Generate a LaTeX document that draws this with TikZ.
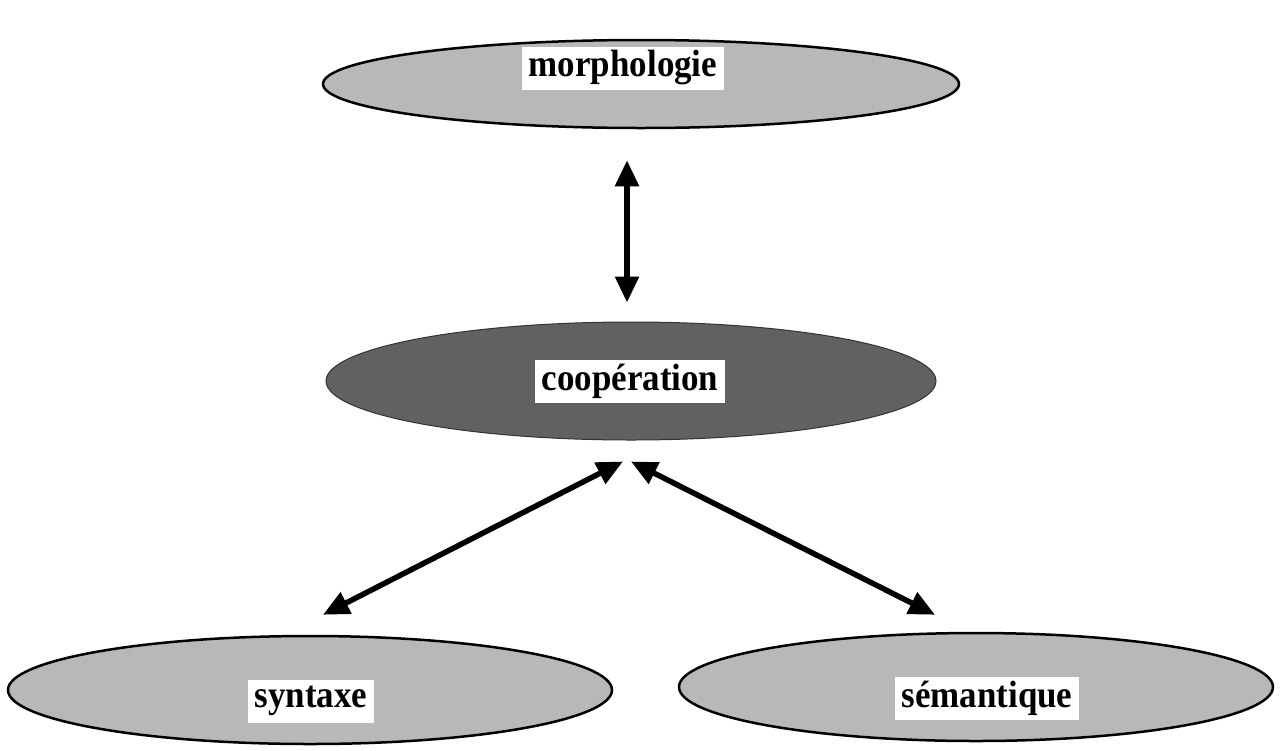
\documentclass[tikz,border=0pt]{standalone}
\usepackage{fontspec}
\setmainfont{Liberation Serif}[FakeStretch=0.92]
\usetikzlibrary{arrows.meta,shapes.geometric}
\begin{document}
\begin{tikzpicture}[x=1pt, y=-1pt,
  ov/.style={ellipse, draw, line width=2.5pt, inner sep=0pt, fill=black!28},
  lbl/.style={fill=white, inner xsep=7pt, inner ysep=0pt, minimum height=43pt, font=\fontsize{38}{42}\selectfont\bfseries},
  dbl/.style={{Triangle[length=26pt,width=23pt]}-{Triangle[length=26pt,width=23pt]}, line width=5.5pt}]
\useasboundingbox (0,0) rectangle (1281,750);
% Ellipses
\node[ov, minimum width=636pt, minimum height=88pt] (morph) at (641,84) {};
\node[ov, fill=black!62, draw=black!80, line width=1pt, minimum width=610pt, minimum height=118pt] (coop) at (631,381) {};
\node[ov, minimum width=604pt, minimum height=108pt] (synt) at (310,690) {};
\node[ov, minimum width=594pt, minimum height=108pt] (sem) at (976,687) {};
% Labels
\node[lbl] (morphlbl) at (623,68) {morphologie};
\node[lbl] (cooplbl) at (630,381) {coopération};
\node[lbl] (syntlbl) at (311,701) {syntaxe};
\node[lbl] (semlbl) at (987,698) {sémantique};
% Arrows
\draw[dbl] ([xshift=-14pt,yshift=-31pt]morph.south) -- ([xshift=-4pt,yshift=19pt]coop.north);
\draw[dbl] ([xshift=-8pt,yshift=-21pt]coop.south) -- ([xshift=13pt,yshift=20pt]synt.north);
\draw[dbl] ([yshift=-21pt]coop.south) -- ([xshift=-41pt,yshift=17pt]sem.north);
\end{tikzpicture}
\end{document}
